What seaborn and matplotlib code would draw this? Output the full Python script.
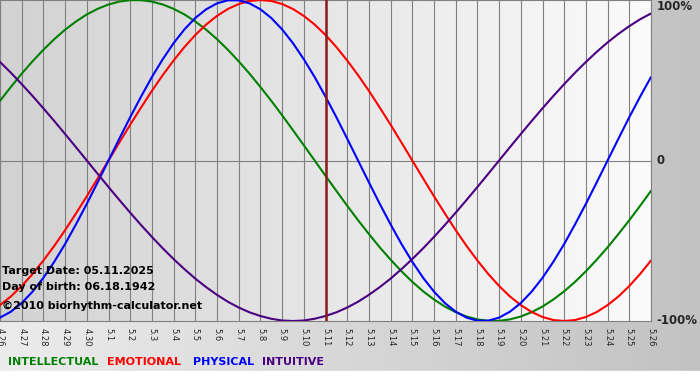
import numpy as np
import pandas as pd
import matplotlib
matplotlib.use("Agg")
import matplotlib.pyplot as plt
from matplotlib.colors import LinearSegmentedColormap
import seaborn as sns

# day labels on the x axis
days = ["4.26", "4.27", "4.28", "4.29", "4.30", "5.1", "5.2", "5.3", "5.4", "5.5",
        "5.6", "5.7", "5.8", "5.9", "5.10", "5.11", "5.12", "5.13", "5.14", "5.15",
        "5.16", "5.17", "5.18", "5.19", "5.20", "5.21", "5.22", "5.23", "5.24", "5.25",
        "5.26"]

# cycle values read every half day (-1 .. 1), from 4.26 to 5.26
intellectual = [0.372, 0.458, 0.541, 0.618, 0.690, 0.756, 0.815, 0.866, 0.910, 0.945,
                0.972, 0.990, 0.999, 0.999, 0.990, 0.972, 0.945, 0.910, 0.866, 0.815,
                0.756, 0.690, 0.618, 0.541, 0.458, 0.372, 0.282, 0.189, 0.095, 0.000,
                -0.095, -0.189, -0.282, -0.372, -0.458, -0.541, -0.618, -0.690, -0.756, -0.815,
                -0.866, -0.910, -0.945, -0.972, -0.990, -0.999, -0.999, -0.990, -0.972, -0.945,
                -0.910, -0.866, -0.815, -0.756, -0.690, -0.618, -0.541, -0.458, -0.372, -0.282,
                -0.189]
emotional = [-0.901, -0.847, -0.782, -0.707, -0.623, -0.532, -0.434, -0.330, -0.223, -0.112,
             0.000, 0.112, 0.223, 0.330, 0.434, 0.532, 0.623, 0.707, 0.782, 0.847,
             0.901, 0.944, 0.975, 0.994, 1.000, 0.994, 0.975, 0.944, 0.901, 0.847,
             0.782, 0.707, 0.623, 0.532, 0.434, 0.330, 0.223, 0.112, 0.000, -0.112,
             -0.223, -0.330, -0.434, -0.532, -0.623, -0.707, -0.782, -0.847, -0.901, -0.944,
             -0.975, -0.994, -1.000, -0.994, -0.975, -0.944, -0.901, -0.847, -0.782, -0.707,
             -0.623]
physical = [-0.979, -0.942, -0.888, -0.817, -0.731, -0.631, -0.520, -0.398, -0.270, -0.136,
            0.000, 0.136, 0.270, 0.398, 0.520, 0.631, 0.731, 0.817, 0.888, 0.942,
            0.979, 0.998, 0.998, 0.979, 0.942, 0.888, 0.817, 0.731, 0.631, 0.520,
            0.398, 0.270, 0.136, 0.000, -0.136, -0.270, -0.398, -0.520, -0.631, -0.731,
            -0.817, -0.888, -0.942, -0.979, -0.998, -0.998, -0.979, -0.942, -0.888, -0.817,
            -0.731, -0.631, -0.520, -0.398, -0.270, -0.136, 0.000, 0.136, 0.270, 0.398,
            0.520]
intuitive = [0.614, 0.547, 0.476, 0.402, 0.325, 0.246, 0.165, 0.083, 0.000, -0.083,
             -0.165, -0.246, -0.325, -0.402, -0.476, -0.547, -0.614, -0.677, -0.736, -0.789,
             -0.837, -0.880, -0.916, -0.946, -0.969, -0.986, -0.997, -1.000, -0.997, -0.986,
             -0.969, -0.946, -0.916, -0.880, -0.837, -0.789, -0.736, -0.677, -0.614, -0.547,
             -0.476, -0.402, -0.325, -0.246, -0.165, -0.083, 0.000, 0.083, 0.165, 0.246,
             0.325, 0.402, 0.476, 0.547, 0.614, 0.677, 0.736, 0.789, 0.837, 0.880,
             0.916]

target_day = "5.11"

colors = {"INTELLECTUAL": "#008000", "EMOTIONAL": "#ff0000",
          "PHYSICAL": "#0000ff", "INTUITIVE": "#4b0082"}

df = pd.DataFrame({"day": np.arange(len(intellectual)) * 0.5,
                   "INTELLECTUAL": intellectual, "EMOTIONAL": emotional,
                   "PHYSICAL": physical, "INTUITIVE": intuitive})
long = df.melt(id_vars="day", var_name="cycle", value_name="value")

sns.set_style("white")
plt.rcParams['font.family'] = ['DejaVu Sans']

W, H = 700, 380
fig = plt.figure(figsize=(7, 3.8), dpi=100)

# background of the whole image
bg = fig.add_axes([0, 0, 1, 1])
bg.axis("off")
grad_cm = LinearSegmentedColormap.from_list("bg", ["#ececec", "#c2c2c2"])
bg.imshow(np.linspace(0, 1, 256).reshape(1, -1), cmap=grad_cm, aspect="auto",
          extent=[0, W, 0, H])
bg.axhspan(0, 9, color="white")
bg.set_xlim(0, W)
bg.set_ylim(0, H)

# plot area
ax = fig.add_axes([0, 1 - 321 / H, 651 / W, 321 / H])
plot_cm = LinearSegmentedColormap.from_list("pl", ["#d2d2d2", "#fbfbfb"])
ax.imshow(np.linspace(0, 1, 256).reshape(1, -1), cmap=plot_cm, aspect="auto",
          extent=[0, len(days) - 1, -1.0, 1.0], zorder=0)

for x in range(len(days)):
    ax.axvline(x, color="#808080", lw=0.8, zorder=1)
ax.axhline(0, color="#808080", lw=0.8, zorder=1)

sns.lineplot(data=long, x="day", y="value", hue="cycle", palette=colors,
             lw=1.5, legend=False, ax=ax, zorder=3, solid_joinstyle="round")

ax.axvline(days.index(target_day), color="#8b1a1a", lw=1.8, zorder=4)

ax.set_xlim(0, len(days) - 1)
ax.set_ylim(-1.0, 1.0)
ax.set_xlabel("")
ax.set_ylabel("")
ax.set_yticks([])
ax.set_xticks(range(len(days)))
ax.set_xticklabels(days, rotation=-90, fontsize=6, va="top", ha="center")
ax.tick_params(axis="x", length=3.5, width=0.8, color="#808080", pad=1.5, direction="out")
for s in ax.spines.values():
    s.set_color("#808080")
    s.set_linewidth(0.8)

# y labels on the right
ax.text(1.008, 1.0, "100%", transform=ax.transAxes, fontsize=8.5, fontweight="bold",
        va="top", ha="left")
ax.text(1.008, 0.5, "0", transform=ax.transAxes, fontsize=8.5, fontweight="bold",
        va="center", ha="left")
ax.text(1.008, 0.0, "-100%", transform=ax.transAxes, fontsize=8.5, fontweight="bold",
        va="center", ha="left")

# info text
info = ["Target Date: 05.11.2025", "Day of birth: 06.18.1942",
        "©2010 biorhythm-calculator.net"]
for txt, yp in zip(info, [271, 287, 306]):
    fig.text(2 / W, 1 - yp / H, txt, fontsize=8, fontweight="bold", va="center",
             ha="left", color="black")

# legend text
for name, xp in zip(["INTELLECTUAL", "EMOTIONAL", "PHYSICAL", "INTUITIVE"],
                    [8, 107, 193, 262]):
    fig.text(xp / W, 1 - 362 / H, name, fontsize=8, fontweight="bold",
             color=colors[name], va="center", ha="left")

fig.savefig("out.png", dpi=100)
